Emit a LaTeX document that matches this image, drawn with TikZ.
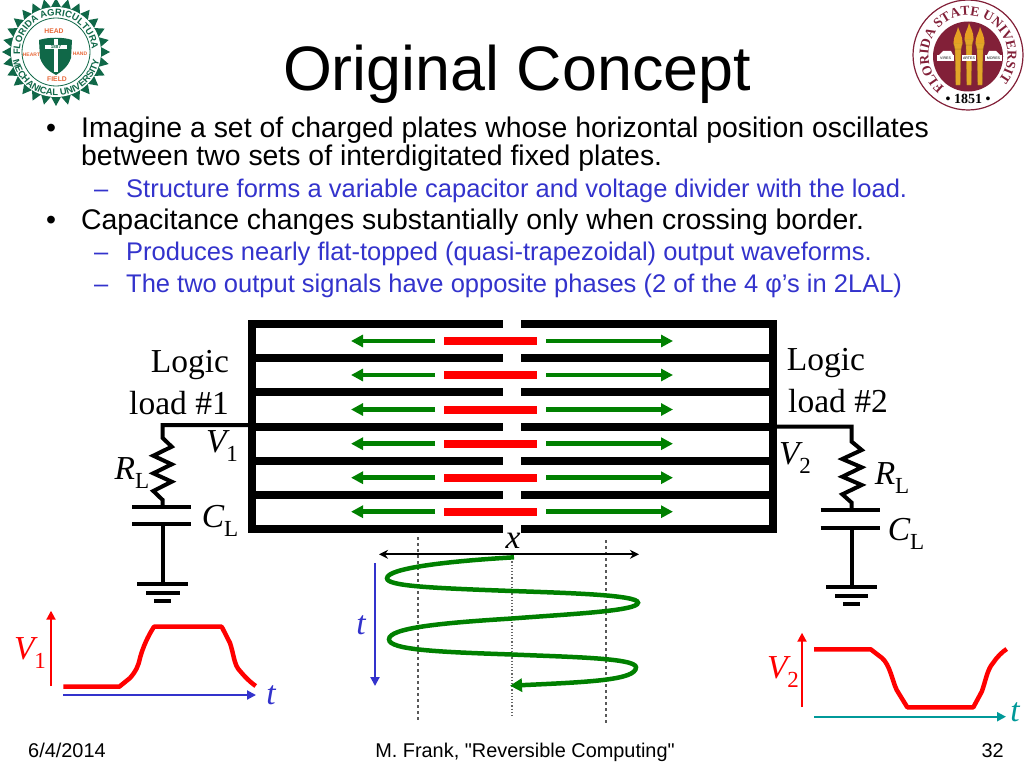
\documentclass[tikz,border=0pt]{standalone}
\usepackage{fontspec}
\setmainfont{Liberation Sans}
\newfontfamily\timesface{Liberation Serif}
\newfontfamily\plainface{Liberation Sans}
\usetikzlibrary{arrows.meta,shapes.geometric,decorations.text}
\definecolor{slideblue}{RGB}{51,51,204}
\definecolor{slidegreen}{RGB}{0,128,0}
\definecolor{slideteal}{RGB}{0,153,153}
\definecolor{famugreen}{RGB}{16,104,72}
\definecolor{famuorange}{RGB}{232,104,56}
\definecolor{fsured}{RGB}{130,32,56}
\definecolor{fsugold}{RGB}{226,166,40}
\newcommand{\fsz}[1]{\fontsize{#1}{#1}\selectfont}
\newcommand{\sublabel}[2]{{\itshape #1}\raisebox{-0.28em}{\fsz{23}#2}}
\tikzset{
  plate/.style={line width=8pt,line cap=butt},
  rider/.style={line width=8pt,red},
  pusharrow/.style={line width=4.5pt,slidegreen,-{Triangle[length=12pt,width=12pt]}},
  wire/.style={line width=4pt,line join=miter},
  trace/.style={line width=4.5pt,red,line join=round},
  thinaxis/.style={line width=2pt,-{Triangle[length=9pt,width=9pt]}},
  bigline/.style={anchor=base west,inner sep=0pt,font=\fsz{28.4}},
  subline/.style={anchor=base west,inner sep=0pt,font=\fsz{25.5},slideblue},
  seriflabel/.style={inner sep=0pt,font=\timesface\fsz{33.5}},
  footline/.style={inner sep=0pt,anchor=base,font=\plainface\fsz{19.9}},
  fixedline/.style={line width=1.2pt,dashed,black!65},
  torch/.style={fill=fsugold,draw=fsugold!70!black,line width=.3pt},
}
\begin{document}
\begin{tikzpicture}[x=1pt,y=-1pt]
  \useasboundingbox (0,0) rectangle (1024,768);
  % heading and bullets
  \node (title) [inner sep=0pt,anchor=base,font=\fsz{62.8}] at (517,90) {Original Concept};
  \node (dotA) [bigline] at (46,137) {•};
  \node (lineA) [bigline] at (81,137) {Imagine a set of charged plates whose horizontal position oscillates};
  \node (lineB) [bigline] at (81,165) {between two sets of interdigitated fixed plates.};
  \node (dashA) [subline] at (94,197) {–};
  \node (lineC) [subline] at (126,197) {Structure forms a variable capacitor and voltage divider with the load.};
  \node (dotB) [bigline] at (46,229) {•};
  \node (lineD) [bigline] at (81,229) {Capacitance changes substantially only when crossing border.};
  \node (dashB) [subline] at (94,260) {–};
  \node (lineE) [subline] at (126,260) {Produces nearly flat-topped (quasi-trapezoidal) output waveforms.};
  \node (dashC) [subline] at (94,292) {–};
  \node (lineF) [subline] at (126,292) {The two output signals have opposite phases (2 of the 4 φ’s in 2LAL)};
  % fixed plates and moving plates
  \foreach \py in {324,358,392.3,426.7,460.7,494.7,528.7} {
    \draw[plate] (248,\py) -- (503,\py);
    \draw[plate] (521,\py) -- (777,\py);
  }
  \draw[plate] (252,320) -- (252,532.7);
  \draw[plate] (773,320) -- (773,532.7);
  \foreach \py in {341,375,409.5,443.7,477.7,511.7} {
    \draw[rider] (444,\py) -- (537,\py);
    \draw[pusharrow] (435,\py) -- (351,\py);
    \draw[pusharrow] (546,\py) -- (673,\py);
  }
  % load on the left
  \coordinate (busL) at (248,425);
  \coordinate (cornerL) at (162.7,425);
  \coordinate (capLa) at (162.7,507);
  \coordinate (capLb) at (162.7,524);
  \coordinate (gndL) at (162.7,584);
  \draw[wire] (busL) -- (cornerL) -- (162.7,438) -- (171.7,446.7) -- (153.3,455.7) -- (171.7,464.3)
    -- (153.3,473.3) -- (171.7,481.7) -- (153.3,491) -- (162.7,500) -- (capLa);
  \draw[wire] (132,507) -- (191,507);
  \draw[wire] (132,524) -- (191,524);
  \draw[wire] (capLb) -- (gndL);
  \draw[wire] (137,584) -- (188,584);
  \draw[wire] (146,592.7) -- (180,592.7);
  \draw[wire] (154,601) -- (171,601);
  % load on the right
  \coordinate (busR) at (777,426.7);
  \coordinate (cornerR) at (851.7,426.7);
  \coordinate (capRa) at (851.7,510);
  \coordinate (capRb) at (851.7,527.7);
  \coordinate (gndR) at (851.7,587);
  \draw[wire] (busR) -- (cornerR) -- (851.7,441.7) -- (861.7,450) -- (842.3,459) -- (861.7,467.3)
    -- (842.3,476.7) -- (861.7,485) -- (842.3,494.3) -- (851.7,502.7) -- (capRa);
  \draw[wire] (820.7,510) -- (880,510);
  \draw[wire] (820.7,527.7) -- (880,527.7);
  \draw[wire] (capRb) -- (gndR);
  \draw[wire] (826,587) -- (877,587);
  \draw[wire] (835,595.7) -- (868,595.7);
  \draw[wire] (843,604) -- (860,604);
  % circuit labels
  \node (logicA) [seriflabel] at (190,365) {Logic};
  \node (loadA) [seriflabel] at (179,403) {load \#1};
  \node (logicB) [seriflabel] at (826,363) {Logic};
  \node (loadB) [seriflabel] at (838,401) {load \#2};
  \node (voltA) [seriflabel] at (222,446) {\sublabel{V}{1}};
  \node (voltB) [seriflabel] at (795,458) {\sublabel{V}{2}};
  \node (resA) [seriflabel] at (132,473) {\sublabel{R}{L}};
  \node (resB) [seriflabel] at (892,478) {\sublabel{R}{L}};
  \node (capA) [seriflabel] at (220,521) {\sublabel{C}{L}};
  \node (capB) [seriflabel] at (906,534) {\sublabel{C}{L}};
  % position against time
  \draw[fixedline] (418,537) -- (418,721);
  \draw[fixedline] (606,540) -- (606,723);
  \draw[line width=1.2pt,dotted,black!60] (512,555) -- (512,716);
  \coordinate (axisxL) at (379,554.3);
  \coordinate (axisxR) at (639,554.3);
  \draw[line width=2pt,{Stealth[length=9pt,width=9pt]}-{Stealth[length=9pt,width=9pt]}] (axisxL) -- (axisxR);
  \node (posx) [seriflabel] at (513,541) {\itshape x};
  \coordinate (timetop) at (375,563);
  \coordinate (timeend) at (375,686);
  \draw[thinaxis,slideblue] (timetop) -- (timeend);
  \node (timet) [seriflabel,slideblue] at (361,625) {\itshape t};
  \draw[line width=4.5pt,slidegreen,-{Triangle[length=12pt,width=13pt]}] (514,557.3)
    .. controls (450,561) and (387,568) .. (387,578.3)
    .. controls (387,586) and (430,588) .. (512,591)
    .. controls (570,593) and (638,595) .. (638,602.7)
    .. controls (638,611) and (570,614) .. (512,618.5)
    .. controls (440,623) and (389,628) .. (389,639.3)
    .. controls (389,650) and (440,652) .. (512,654.5)
    .. controls (570,657) and (636,658) .. (636,667.3)
    .. controls (636,680) and (590,682) .. (510,685.7);
  % waveform V1
  \coordinate (vAbase) at (51,686);
  \coordinate (vAtop) at (51,610.7);
  \coordinate (tAbase) at (63.3,695);
  \coordinate (tAend) at (256,695);
  \draw[thinaxis,red] (vAbase) -- (vAtop);
  \draw[thinaxis,slideblue] (tAbase) -- (tAend);
  \draw[trace] (63.3,686.7) -- (119.3,686.7) -- (130,678) .. controls (136,671) and (138,667) .. (140,658)
    .. controls (143,647) and (148,636) .. (154,626.7) -- (221.7,626.7) -- (230,643)
    .. controls (234,655) and (234,665) .. (240,671) .. controls (245,677) and (250,682) .. (255.7,686);
  \node (labelvA) [seriflabel,red] at (30,653) {\sublabel{V}{1}};
  \node (labeltA) [seriflabel,slideblue] at (271,695) {\itshape t};
  % waveform V2
  \coordinate (vBbase) at (802,707);
  \coordinate (vBtop) at (802,632.7);
  \coordinate (tBbase) at (814,716.7);
  \coordinate (tBend) at (1006,716.7);
  \draw[thinaxis,red] (vBbase) -- (vBtop);
  \draw[thinaxis,slideteal] (tBbase) -- (tBend);
  \draw[trace] (814,649.3) -- (870.7,649.3) -- (882,658) .. controls (890,665) and (892,680) .. (896.7,690)
    -- (907.3,707.3) -- (973.3,707.3) -- (981.7,691.7) .. controls (986,680) and (987,670) .. (993,663)
    .. controls (997,657) and (1002,652) .. (1006.7,649);
  \node (labelvB) [seriflabel,red] at (783,672) {\sublabel{V}{2}};
  \node (labeltB) [seriflabel,slideteal] at (1015,712) {\itshape t};
  % footer
  \node (footdate) [footline,anchor=base west] at (28,757) {6/4/2014};
  \node (footname) [footline] at (525,757) {M. Frank, "Reversible Computing"};
  \node (footpage) [footline,anchor=base east] at (1004,757) {32};
  % seal on the left
  \begin{scope}[shift={(56,52)},y=1pt]
    \node (famuseal) [star,star points=28,star point ratio=1.2,minimum size=108pt,inner sep=0pt,fill=famugreen] at (0,0) {};
    \fill[white] (0,0) circle[radius=45];
    \draw[famugreen,line width=.8pt] (0,0) circle[radius=34];
    \path[decorate,decoration={text along path,text align=center,
      text={|\fsz{9.4}\bfseries\color{famugreen}|FLORIDA AGRICULTURAL}}] (178:36) arc[start angle=178,end angle=2,radius=36];
    \path[decorate,decoration={text along path,text align=center,
      text={|\fsz{9.4}\bfseries\color{famugreen}|MECHANICAL UNIVERSITY}}] (178:44) arc[start angle=178,end angle=362,radius=44];
    \fill[famugreen] (-17,12) .. controls (-8,15) and (8,15) .. (16,12) -- (15,-6) .. controls (12,-15) and (5,-20) .. (0,-23)
      .. controls (-6,-20) and (-13,-15) .. (-16,-6) -- cycle;
    \fill[white] (-2,13) rectangle (2,-20);
    \fill[white] (-11,7) rectangle (11,3);
    \node (famuyear) [inner sep=0pt,font=\bfseries\fsz{4.5},famugreen] at (0,5) {1887};
    \node (famuhead) [inner sep=0pt,font=\bfseries\fsz{6.8},famuorange] at (-2,21) {HEAD};
    \node (famufield) [inner sep=0pt,font=\bfseries\fsz{6.8},famuorange] at (1,-27) {FIELD};
    \node (famuheart) [inner sep=0pt,font=\bfseries\fsz{5},famuorange] at (-24.5,-3) {HEART};
    \node (famuhand) [inner sep=0pt,font=\bfseries\fsz{5},famuorange] at (24,-2) {HAND};
  \end{scope}
  % seal on the right
  \begin{scope}[shift={(968,55)},y=1pt]
    \draw[fsured,line width=1.2pt,fill=white] (0,0) circle[radius=55];
    \fill[fsured] (0,-1.5) circle[radius=35];
    \path[decorate,decoration={text along path,text align=center,
      text={|\timesface\fsz{13.5}\bfseries\color{fsured}|FLORIDA STATE UNIVERSITY}}] (218:39.5) arc[start angle=218,end angle=-38,radius=39.5];
    \node (fsuyear) [inner sep=0pt,font=\timesface\bfseries\fsz{14},black] at (0,-44) {\textbullet\ 1851 \textbullet};
    \foreach \tx/\ty in {-10/-2,1/2,12/-2} {
      \fill[torch] (\tx-3,\ty+8) -- (\tx+3,\ty+8) -- (\tx+2.2,-30) -- (\tx-2.2,-30) -- cycle;
      \fill[torch] (\tx-4.5,\ty+14) -- (\tx+4.5,\ty+14) -- (\tx+3,\ty+8) -- (\tx-3,\ty+8) -- cycle;
      \fill[fsugold!85!orange] (\tx-4.5,\ty+14) .. controls (\tx-4.5,\ty+21) and (\tx-1,\ty+24) .. (\tx,\ty+30)
        .. controls (\tx+2,\ty+24) and (\tx+4.5,\ty+21) .. (\tx+4.5,\ty+14) -- cycle;
    }
    \fill[white] (-31,0) rectangle (-14,-6);
    \fill[white] (-6,0) rectangle (8,-6);
    \fill[white] (17,0) rectangle (34,-6);
    \fill[white] (-29,0) -- (-25,4) -- (-17,4) -- (-15,0) -- cycle;
    \fill[white] (32,0) -- (28,4) -- (21,4) -- (19,0) -- cycle;
    \node (fsuvires) [inner sep=0pt,font=\fsz{3.6},black] at (-22.5,-3) {VIRES};
    \node (fsuartes) [inner sep=0pt,font=\fsz{3.6},black] at (1,-3) {ARTES};
    \node (fsumores) [inner sep=0pt,font=\fsz{3.6},black] at (25.5,-3) {MORES};
  \end{scope}
\end{tikzpicture}
\end{document}
